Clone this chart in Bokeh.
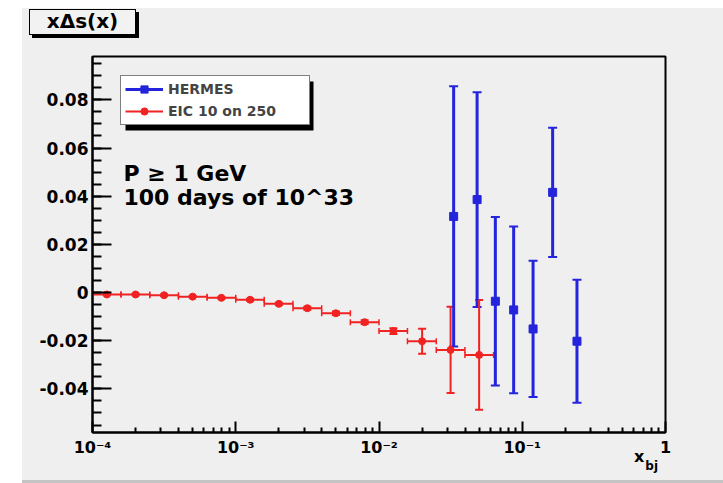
import numpy as np
from bokeh.plotting import figure
from bokeh.models import (ColumnDataSource, FixedTicker, CustomJSTickFormatter, Whisker,
                          TeeHead, Legend, LegendItem, Label, BoxAnnotation, GridBox, Div)
from bokeh.embed import file_html
from bokeh.resources import INLINE

# HERMES x*Delta s(x) points
hermes_x = [0.0332, 0.0484, 0.0649, 0.0871, 0.119, 0.163, 0.241]
hermes_y = [0.0316, 0.0386, -0.0036, -0.0072, -0.0151, 0.0416, -0.0202]
hermes_err = [0.054, 0.0446, 0.035, 0.0346, 0.0283, 0.0268, 0.0255]

# EIC 10 on 250 projection, bins of 0.2 in log10(x)
eic_x = [1.26e-4, 2.0e-4, 3.16e-4, 5.0e-4, 7.94e-4, 1.26e-3, 2.0e-3,
         3.16e-3, 5.0e-3, 7.94e-3, 1.26e-2, 2.0e-2, 3.16e-2, 5.0e-2]
eic_edges = [1.0e-4, 1.58e-4, 2.51e-4, 3.98e-4, 6.31e-4, 1.0e-3, 1.58e-3, 2.51e-3,
             3.98e-3, 6.31e-3, 1.0e-2, 1.58e-2, 2.51e-2, 3.98e-2, 6.31e-2]
eic_y = [-0.0008, -0.0008, -0.0011, -0.0017, -0.0022, -0.0030, -0.0047,
         -0.0065, -0.0086, -0.0123, -0.0160, -0.0202, -0.0238, -0.0259]
eic_err = [0.0003, 0.0003, 0.0003, 0.0003, 0.0004, 0.0004, 0.0005,
           0.0006, 0.0007, 0.0008, 0.0012, 0.0052, 0.0179, 0.0228]

x_ticks = [1e-4, 1e-3, 1e-2, 1e-1, 1.0]
x_tick_labels = ["10⁻⁴", "10⁻³", "10⁻²", "10⁻¹", "1"]
y_ticks = [-0.04, -0.02, 0.0, 0.02, 0.04, 0.06, 0.08]
y_tick_labels = ["-0.04", "-0.02", "0", "0.02", "0.04", "0.06", "0.08"]

BLUE = "#2424dc"
RED = "#f02222"
FONT = "DejaVu Sans"
BG = "#efefef"
W, H = 723, 483

p = figure(width=W, height=H, x_axis_type="log", x_range=(1e-4, 1.0),
           y_range=(-0.0581, 0.098), output_backend="svg", toolbar_location=None,
           min_border_left=92, min_border_right=58, min_border_top=56, min_border_bottom=51,
           background_fill_color=BG, border_fill_color=BG)
p.xgrid.visible = False
p.ygrid.visible = False
p.outline_line_color = "black"
p.outline_line_width = 2

# axes: ROOT-like inward ticks
x_minor = [k * 10.0 ** e for e in range(-4, 0) for k in range(2, 10)]
y_minor = [round(v, 4) for v in np.arange(-0.055, 0.0951, 0.005)]
p.xaxis.ticker = FixedTicker(ticks=x_ticks, minor_ticks=x_minor)
p.yaxis.ticker = FixedTicker(ticks=y_ticks, minor_ticks=y_minor)
p.xaxis.formatter = CustomJSTickFormatter(args=dict(xt=x_ticks, xl=x_tick_labels), code="""
    for (let i = 0; i < xt.length; i++) {
        if (Math.abs(Math.log10(xt[i]) - Math.log10(tick)) < 1e-6) return xl[i];
    }
    return "";
""")
p.yaxis.formatter = CustomJSTickFormatter(args=dict(yt=y_ticks, yl=y_tick_labels), code="""
    for (let i = 0; i < yt.length; i++) {
        if (Math.abs(yt[i] - tick) < 1e-9) return yl[i];
    }
    return "";
""")
for ax in (p.xaxis[0], p.yaxis[0]):
    ax.axis_line_color = "black"
    ax.axis_line_width = 2
    ax.major_tick_out = 0
    ax.minor_tick_out = 0
    ax.major_tick_line_color = "black"
    ax.major_tick_line_width = 2
    ax.minor_tick_line_color = "black"
    ax.minor_tick_line_width = 2
    ax.major_label_text_font = FONT
    ax.major_label_text_font_style = "bold"
    ax.major_label_text_color = "black"
p.yaxis.major_tick_in = 19
p.yaxis.minor_tick_in = 9
p.yaxis.major_label_text_font_size = "17px"
p.yaxis.major_label_standoff = 4
p.xaxis.major_tick_in = 11
p.xaxis.minor_tick_in = 5
p.xaxis.major_label_text_font_size = "16px"
p.xaxis.major_label_standoff = 5

# HERMES
src_h = ColumnDataSource(dict(
    x=hermes_x, y=hermes_y,
    lo=[y - e for y, e in zip(hermes_y, hermes_err)],
    hi=[y + e for y, e in zip(hermes_y, hermes_err)]))
h_bars = p.segment(x0="x", y0="lo", x1="x", y1="hi", source=src_h,
                   line_color=BLUE, line_width=3)
p.add_layout(Whisker(source=src_h, base="x", lower="lo", upper="hi", dimension="height",
                     line_alpha=0,
                     upper_head=TeeHead(size=9, line_color=BLUE, line_width=2),
                     lower_head=TeeHead(size=9, line_color=BLUE, line_width=2)))
h_pts = p.scatter("x", "y", source=src_h, marker="square", size=8,
                  fill_color=BLUE, line_color=BLUE)

# EIC
src_e = ColumnDataSource(dict(
    x=eic_x, y=eic_y,
    xlo=eic_edges[:-1], xhi=eic_edges[1:],
    lo=[y - e for y, e in zip(eic_y, eic_err)],
    hi=[y + e for y, e in zip(eic_y, eic_err)]))
e_hbars = p.segment(x0="xlo", y0="y", x1="xhi", y1="y", source=src_e,
                    line_color=RED, line_width=2)
p.segment(x0="x", y0="lo", x1="x", y1="hi", source=src_e, line_color=RED, line_width=2)
p.add_layout(Whisker(source=src_e, base="x", lower="lo", upper="hi", dimension="height",
                     line_alpha=0,
                     upper_head=TeeHead(size=8, line_color=RED, line_width=2),
                     lower_head=TeeHead(size=8, line_color=RED, line_width=2)))
p.add_layout(Whisker(source=src_e, base="y", lower="xlo", upper="xhi", dimension="width",
                     line_alpha=0,
                     upper_head=TeeHead(size=6, line_color=RED, line_width=1.5),
                     lower_head=TeeHead(size=6, line_color=RED, line_width=1.5)))
e_pts = p.scatter("x", "y", source=src_e, marker="circle", size=7,
                  fill_color=RED, line_color=RED)

# legend with drop shadow
p.add_layout(BoxAnnotation(left=33, right=221, top=351, bottom=302,
                           left_units="screen", right_units="screen",
                           top_units="screen", bottom_units="screen",
                           fill_color="black", fill_alpha=1, line_color=None))
legend = Legend(items=[LegendItem(label="HERMES", renderers=[h_bars, h_pts]),
                       LegendItem(label="EIC 10 on 250", renderers=[e_hbars, e_pts])],
                location=(28, 307), padding=4, spacing=4, margin=0,
                glyph_width=38, glyph_height=18, label_height=18, label_width=137,
                label_standoff=5, border_line_color="black", border_line_width=1.5,
                background_fill_color="white", background_fill_alpha=1,
                label_text_font=FONT, label_text_font_style="bold",
                label_text_font_size="14px")
p.add_layout(legend, "center")

# annotation text inside the frame
for txt, yy in (("P ≥ 1 GeV", 259), ("100 days of 10^33", 235)):
    p.add_layout(Label(x=31, y=yy, x_units="screen", y_units="screen", text=txt,
                       text_font=FONT, text_font_style="bold", text_font_size="22px",
                       text_baseline="alphabetic", text_color="black"))

# page margins, title box and x_bj axis title, laid over the canvas
overlay_html = f"""
<div style="position:relative;width:{W}px;height:{H}px;font-family:'DejaVu Sans';
            font-weight:bold;color:black;pointer-events:none;">
  <div style="position:absolute;left:0;top:0;width:22px;height:{H}px;background:white;"></div>
  <div style="position:absolute;left:0;top:0;width:{W}px;height:8px;background:white;"></div>
  <div style="position:absolute;left:22px;top:480px;width:{W - 22}px;height:3px;
              background:#c4c4c4;"></div>
  <div style="position:absolute;left:29px;top:9px;width:107px;height:26px;
              box-sizing:border-box;border:1.5px solid black;background:#f2f2f2;
              box-shadow:3px 3px 0 black;font-size:20px;line-height:23px;
              text-align:center;">xΔs(x)</div>
  <div style="position:absolute;left:634px;top:449px;font-size:16px;line-height:16px;
              white-space:nowrap;">x<span style="font-size:12px;position:relative;
              top:8px;margin-left:1px;">bj</span></div>
</div>
"""
overlay = Div(text=overlay_html, width=W, height=H, margin=0)

page = GridBox(children=[(p, 0, 0), (overlay, 0, 0)])

open("out.html", "w").write(file_html(page, INLINE))
